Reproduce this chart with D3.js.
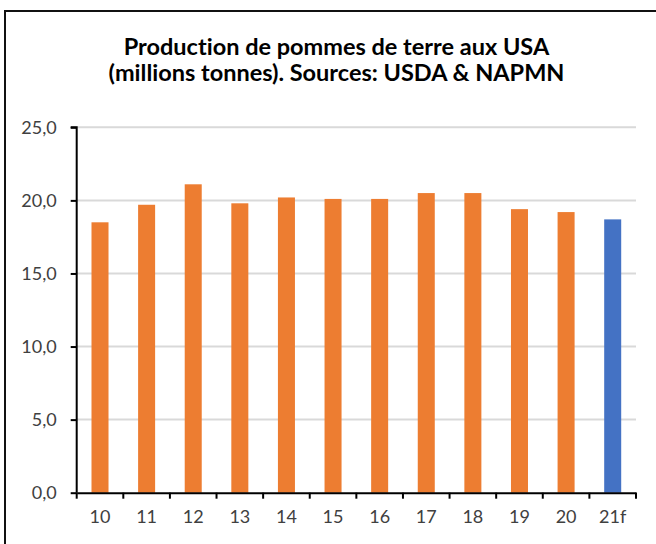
<!DOCTYPE html>
<html>
<head>
<meta charset="utf-8">
<script src="https://cdn.jsdelivr.net/npm/d3@7"></script>
<style>
    body { margin: 0; background: #fff; }
    svg text { font-family: Lato, "Open Sans", sans-serif; font-variant-ligatures: none; }
</style>
</head>
<body>
<div id="chart"></div>
<script>
    // potato production, USA (millions of tonnes)
    const years = ["10", "11", "12", "13", "14", "15", "16", "17", "18", "19", "20", "21f"];
    const production = [18.5, 19.7, 21.1, 19.8, 20.2, 20.1, 20.1, 20.5, 20.5, 19.4, 19.2, 18.7];
    const yTicks = [0, 5, 10, 15, 20, 25];
    const titleLines = ["Production de pommes de terre aux USA", "(millions tonnes). Sources: USDA & NAPMN"];

    let width = 656, height = 544;
    let margin = {top: 127.3, right: 20, bottom: 51.3, left: 76.7};

    let svg = d3.select("#chart").append("svg")
        .attr("width", width)
        .attr("height", height);

    // frame around the chart (cut by the picture on the right and bottom)
    svg.append("rect")
        .attr("x", 5)
        .attr("y", 11)
        .attr("width", 660)
        .attr("height", 560)
        .attr("fill", "none")
        .attr("stroke", "#111")
        .attr("stroke-width", 2);

    svg.append("g")
        .selectAll("text")
        .data(titleLines)
        .enter()
        .append("text")
        .attr("x", 336.5)
        .attr("y", function (d, i) {
            return 55 + i * 25.5;
        })
        .attr("text-anchor", "middle")
        .style("font-size", "23.5px")
        .style("font-weight", "bold")
        .style("fill", "#000")
        .text(function (d) {
            return d;
        });

    let g = svg.append("g")
        .attr("transform", "translate(" + margin.left + "," + margin.top + ")");

    let w = 636 - margin.left,
        h = 492.7 - margin.top;

    let x = d3.scaleBand()
        .domain(years)
        .range([0, w])
        .paddingInner(0.635)
        .paddingOuter(0.3175);

    let y = d3.scaleLinear()
        .domain([0, 25])
        .range([h, 0]);

    // gridlines
    g.append("g")
        .selectAll("line")
        .data(yTicks.filter(function (d) { return d > 0; }))
        .enter()
        .append("line")
        .attr("x1", 0)
        .attr("x2", w)
        .attr("y1", function (d) { return y(d); })
        .attr("y2", function (d) { return y(d); })
        .attr("stroke", "#d9d9d9")
        .attr("stroke-width", 2);

    g.selectAll(".bar")
        .data(production)
        .enter()
        .append("rect")
        .attr("class", "bar")
        .attr("x", function (d, i) { return x(years[i]); })
        .attr("width", x.bandwidth())
        .attr("y", function (d) { return y(d); })
        .attr("height", function (d) { return h - y(d); })
        .attr("fill", function (d, i) {
            return years[i] === "21f" ? "#4472c4" : "#ed7d31";
        });

    // y axis
    let yAxis = d3.axisLeft(y)
        .tickValues(yTicks)
        .tickSize(6)
        .tickPadding(14)
        .tickFormat(function (d) { return d3.format(".1f")(d).replace(".", ","); });

    let gy = g.append("g").call(yAxis);
    gy.select(".domain").attr("stroke", "#000").attr("stroke-width", 2)
        .attr("d", "M-6,0H0V" + h);
    gy.selectAll(".tick line").attr("stroke", "#000").attr("stroke-width", 2);
    gy.selectAll(".tick text").style("font-size", "18px").style("fill", "#404040");

    // x axis, ticks at category boundaries
    let xAxis = d3.axisBottom(x).tickSize(0).tickPadding(18);
    let gx = g.append("g")
        .attr("transform", "translate(0," + h + ")")
        .call(xAxis);
    gx.select(".domain").attr("stroke", "#000").attr("stroke-width", 2);
    gx.selectAll(".tick text").style("font-size", "18px").style("fill", "#404040");

    gx.append("g")
        .selectAll("line")
        .data(d3.range(years.length + 1))
        .enter()
        .append("line")
        .attr("x1", function (d) { return d * w / years.length; })
        .attr("x2", function (d) { return d * w / years.length; })
        .attr("y1", 0)
        .attr("y2", 6)
        .attr("stroke", "#000")
        .attr("stroke-width", 2);
</script>
</body>
</html>
